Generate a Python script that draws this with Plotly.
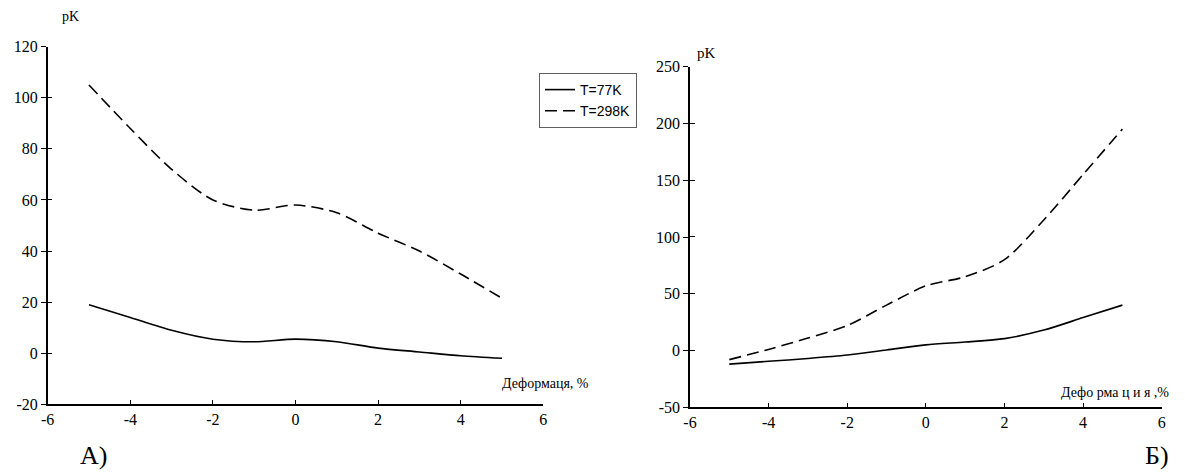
import plotly.graph_objects as go

# ---- data ----
strain = [-5, -4, -3, -2, -1, 0, 1, 2, 3, 4, 5]

a_T77 = [19, 14, 9, 5.5, 4.5, 5.5, 4.5, 2, 0.5, -1, -2]
a_T298 = [105, 88, 72, 60, 56, 58, 55, 47, 40, 31, 21.5]

b_T77 = [-12, -9.5, -7, -4, 0.5, 5, 7.5, 10.5, 18, 29, 40]
b_T298 = [-8, 1, 11, 22, 40, 57, 65, 80, 115, 155, 195]

series_names = ["T=77K", "T=298K"]
x_ticks = [-6, -4, -2, 0, 2, 4, 6]
a_y_ticks = [-20, 0, 20, 40, 60, 80, 100, 120]
b_y_ticks = [-50, 0, 50, 100, 150, 200, 250]

W, H = 1185, 473
SERIF = "Liberation Serif, Times New Roman, serif"
SANS = "Liberation Sans, Arial, sans-serif"

fig = go.Figure()

solid = dict(color="black", width=1.6, shape="spline", smoothing=0.8)
dashed = dict(color="black", width=1.6, shape="spline", smoothing=0.8, dash="12px,6px")

fig.add_trace(go.Scatter(x=strain, y=a_T77, mode="lines", name=series_names[0],
                         line=solid, xaxis="x", yaxis="y"))
fig.add_trace(go.Scatter(x=strain, y=a_T298, mode="lines", name=series_names[1],
                         line=dashed, xaxis="x", yaxis="y"))
fig.add_trace(go.Scatter(x=strain, y=b_T77, mode="lines", name=series_names[0],
                         line=solid, xaxis="x2", yaxis="y2", showlegend=False))
fig.add_trace(go.Scatter(x=strain, y=b_T298, mode="lines", name=series_names[1],
                         line=dashed, xaxis="x2", yaxis="y2", showlegend=False))

def px_x(p):
    return p / W

def px_y(p):
    return 1 - p / H

def labels(vals):
    return [str(v) for v in vals]

def inner_ticks(vals, span):
    # tiny offset so the inside marks sit on the same spots as the outside ones
    return [v + span * 1e-4 for v in vals]

axis_common = dict(showline=True, linecolor="black", linewidth=1.5, showgrid=False,
                   zeroline=False, tickcolor="black", tickwidth=1.3, automargin=False,
                   tickfont=dict(family=SERIF, size=16, color="black"))

fig.update_layout(
    width=W, height=H,
    margin=dict(l=0, r=0, t=0, b=0, pad=0),
    paper_bgcolor="white", plot_bgcolor="white",
    xaxis=dict(domain=[px_x(47.7), px_x(543.3)], range=[-6, 6], tickvals=x_ticks,
               ticktext=labels(x_ticks),
               ticks="inside", ticklen=5, anchor="y", **axis_common),
    yaxis=dict(domain=[px_y(404.3), px_y(46.7)], range=[-20, 120], tickvals=a_y_ticks,
               ticktext=labels(a_y_ticks),
               ticks="outside", ticklen=5, anchor="x",
               minor=dict(tickvals=inner_ticks(a_y_ticks, 140), ticks="inside", ticklen=5,
                          tickcolor="black", tickwidth=1.3, showgrid=False),
               **axis_common),
    xaxis2=dict(domain=[px_x(690), px_x(1161.7)], range=[-6, 6], tickvals=x_ticks,
                ticktext=labels(x_ticks),
                ticks="inside", ticklen=5, anchor="y2", **axis_common),
    yaxis2=dict(domain=[px_y(407.3), px_y(66.7)], range=[-50, 250], tickvals=b_y_ticks,
                ticktext=labels(b_y_ticks),
                ticks="outside", ticklen=5, anchor="x2",
                minor=dict(tickvals=inner_ticks(b_y_ticks, 300), ticks="inside", ticklen=5,
                           tickcolor="black", tickwidth=1.3, showgrid=False),
                **axis_common),
    showlegend=True,
    legend=dict(x=px_x(539), y=px_y(73), xanchor="left", yanchor="top",
                bgcolor="white", bordercolor="#606060", borderwidth=1,
                font=dict(family=SANS, size=14, color="black"),
                tracegroupgap=0, itemwidth=30),
)

annots = [
    dict(text="pK", x=px_x(70), y=px_y(17), size=14),
    dict(text="pK", x=px_x(706), y=px_y(53), size=15),
    dict(text="Деформаця, %", x=px_x(545), y=px_y(383), size=14),
    dict(text="Дефо рма ц и я ,%", x=px_x(1115), y=px_y(392), size=14),
    dict(text="А)", x=px_x(93), y=px_y(455), size=26),
    dict(text="Б)", x=px_x(1157), y=px_y(455), size=26),
]
for a in annots:
    fig.add_annotation(text=a["text"], x=a["x"], y=a["y"], xref="paper", yref="paper",
                       xanchor="center", yanchor="middle", showarrow=False,
                       font=dict(family=SERIF, size=a["size"], color="black"))

fig.write_html("out.html", config={"displayModeBar": False},
               post_script="document.body.style.margin='0';document.body.style.overflow='hidden';")
